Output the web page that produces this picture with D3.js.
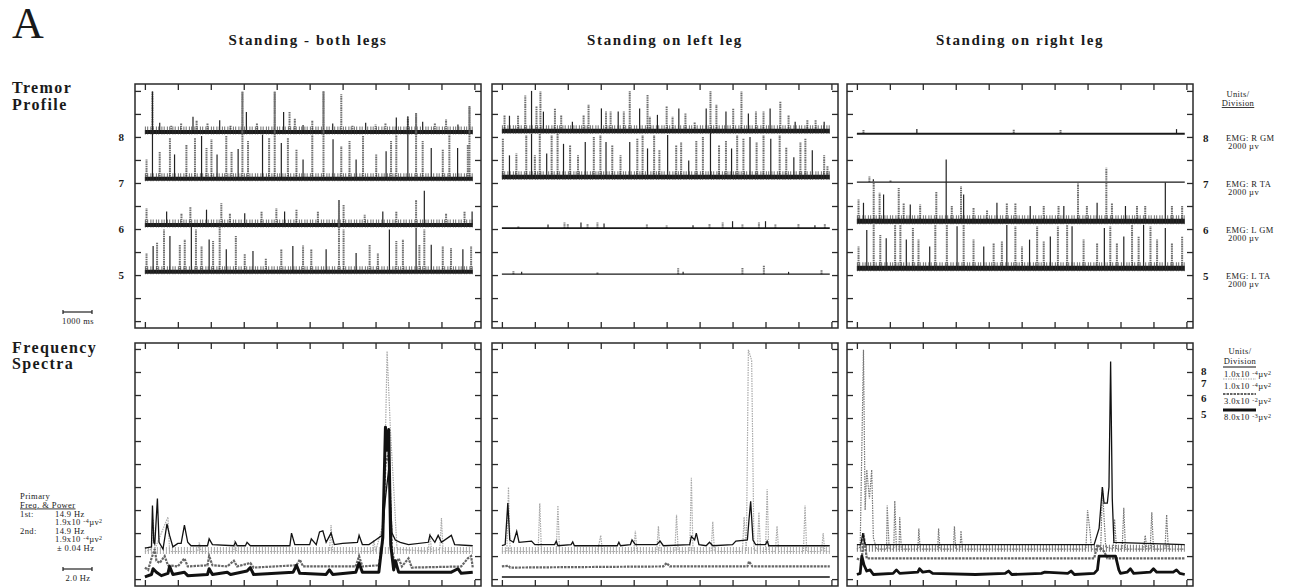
<!DOCTYPE html>
<html lang="en">
  <head>
    <meta charset="UTF-8" />
    <title>Tremor Profile and Frequency Spectra</title>
    <script src="https://d3js.org/d3.v7.min.js"></script>
    <style>
      body {
        margin: 0;
        background-color: white;
        font-family: "Liberation Serif", "DejaVu Serif", serif;
      }
      svg text {
        fill: #1a1a1a;
      }
      .title {
        font-size: 15px;
        font-weight: bold;
        letter-spacing: 1.6px;
      }
      .row-label {
        font-size: 16px;
        font-weight: bold;
        letter-spacing: 1.4px;
      }
      .lvl {
        font-size: 11px;
        font-weight: bold;
      }
      .small {
        font-size: 8.5px;
        letter-spacing: 0.4px;
      }
    </style>
  </head>

  <body>
    <div id="chart"></div>

    <script>
      // ---- data ----
      const conditions = [
        "Standing - both legs",
        "Standing on left leg",
        "Standing on right leg",
      ];
      const levels = [8, 7, 6, 5];
      const emgLabels = ["EMG: R GM", "EMG: R TA", "EMG: L GM", "EMG: L TA"];
      const emgUnits = ["2000 µv", "2000 µv", "2000 µv", "2000 µv"];
      const specMantissa = ["1.0x10", "1.0x10", "3.0x10", "8.0x10"];
      const specExponent = ["-4", "-4", "-2", "-3"];
      const xTicks = [0, 1, 2, 3, 4, 5, 6, 7, 8, 9, 10];
      const emgTicks = [4, 4.5, 5, 5.5, 6, 6.5, 7, 7.5, 8, 8.5, 9];
      const specTicks = [0, 1, 2, 3, 4, 5, 6, 7, 8, 9, 10];
      const traceEnd = 9.95;

      // baseline of each EMG trace (traces 8,7,6,5)
      const baseBoth = [8.11, 7.09, 6.09, 5.07];
      const baseLeft = [8.13, 7.13, 6.02, 5.02];
      const baseRight = [8.07, 7.02, 6.17, 5.15];

      // EMG bursts: [time in divisions, height above baseline]
      const spikesBoth8 = [[0.23,0.87],[0.45,0.2],[0.8,0.15],[1.1,0.18],[1.46,0.33],[1.57,0.25],[1.9,0.18],[2.27,0.25],[2.6,0.15],[2.96,0.87],[3.08,0.43],[3.4,0.18],[3.94,0.87],[4.21,0.43],[4.39,0.43],[4.55,0.3],[4.8,0.15],[5.08,0.25],[5.42,0.89],[5.7,0.18],[5.96,0.82],[6.3,0.15],[6.7,0.2],[7.0,0.16],[7.3,0.2],[7.63,0.31],[7.98,0.31],[8.23,0.4],[8.43,0.22],[8.8,0.18],[9.14,0.27],[9.5,0.16],[9.85,0.54]];
      const spikesBoth7 = [[0.05,0.42],[0.23,1.9],[0.45,0.6],[0.76,0.9],[0.9,0.53],[1.26,0.75],[1.52,0.9],[1.72,0.93],[1.87,0.67],[2.02,0.86],[2.19,0.53],[2.47,0.93],[2.63,0.6],[2.83,0.65],[2.96,1.9],[3.13,0.82],[3.57,0.96],[3.77,0.89],[3.94,1.9],[4.14,0.78],[4.34,0.89],[4.6,0.64],[4.8,0.42],[5.08,0.96],[5.42,1.9],[5.71,0.86],[5.96,0.71],[6.21,0.82],[6.41,0.42],[6.62,0.93],[7.02,0.53],[7.32,0.6],[7.47,0.82],[7.63,0.96],[7.98,1.36],[8.23,1.43],[8.43,0.82],[8.69,0.67],[9.04,0.64],[9.24,0.96],[9.49,0.67],[9.8,0.75],[9.85,1.58]];
      const spikesBoth6 = [[0.05,0.36],[0.66,0.29],[1.11,0.25],[1.38,0.4],[1.87,0.33],[2.32,0.47],[2.58,0.25],[3.03,0.25],[3.54,0.29],[3.99,0.36],[4.24,0.29],[4.6,0.33],[5.25,0.29],[5.89,0.54],[6.03,0.43],[6.67,0.22],[7.22,0.29],[7.63,0.29],[8.23,0.54],[8.48,0.74],[9.14,0.25],[9.7,0.29],[9.93,0.29]];
      const spikesBoth5 = [[0.05,0.41],[0.25,0.56],[0.37,0.63],[0.58,0.92],[0.76,0.78],[1.06,0.59],[1.21,0.7],[1.41,0.99],[1.55,0.92],[1.72,0.56],[1.95,0.7],[2.07,0.67],[2.27,0.99],[2.47,0.49],[2.76,0.78],[3.03,0.38],[3.28,0.45],[3.67,0.3],[4.14,0.49],[4.49,0.56],[4.8,0.57],[5.05,0.49],[5.5,0.49],[5.89,1.56],[6.03,0.92],[6.41,0.41],[6.82,0.59],[7.07,0.41],[7.42,0.92],[7.63,0.67],[7.83,0.7],[8.23,0.96],[8.33,0.59],[8.48,0.92],[8.69,0.59],[9.04,0.56],[9.29,0.52],[9.65,0.49],[9.9,0.56]];

      const spikesLeft8 = [[0.08,0.35],[0.23,0.33],[0.49,0.33],[0.71,0.77],[0.9,0.87],[1.05,0.53],[1.17,0.86],[1.26,0.42],[1.61,0.49],[1.8,0.35],[2.14,0.2],[2.48,0.35],[2.63,0.57],[3.02,0.49],[3.16,0.42],[3.3,0.42],[3.53,0.42],[3.7,0.42],[3.88,0.87],[4.18,0.49],[4.42,0.78],[4.49,0.31],[4.72,0.35],[5.0,0.53],[5.18,0.31],[5.37,0.49],[5.57,0.38],[5.85,0.2],[6.2,0.49],[6.33,0.87],[6.51,0.57],[6.8,0.42],[7.02,0.49],[7.27,0.86],[7.48,0.38],[7.71,0.42],[7.94,0.42],[8.14,0.49],[8.45,0.65],[8.7,0.35],[8.9,0.2],[9.27,0.24],[9.52,0.24],[9.78,0.2]];
      const spikesLeft7 = [[0.03,0.83],[0.23,0.47],[0.44,0.51],[0.74,0.91],[0.9,0.94],[1.0,0.47],[1.15,0.94],[1.36,0.51],[1.51,0.91],[1.69,0.94],[1.87,0.72],[2.07,0.69],[2.31,0.47],[2.53,0.76],[2.79,0.87],[2.99,0.91],[3.16,0.76],[3.35,0.69],[3.6,0.47],[3.88,0.76],[4.11,0.83],[4.27,0.91],[4.42,0.62],[4.62,0.91],[4.78,0.58],[5.03,0.91],[5.29,0.69],[5.44,0.76],[5.67,0.36],[5.9,0.8],[6.1,0.87],[6.33,0.98],[6.59,0.69],[6.8,0.8],[6.97,0.62],[7.14,0.91],[7.33,0.83],[7.53,0.87],[7.73,0.76],[7.94,0.91],[8.16,0.83],[8.43,0.91],[8.63,0.65],[8.86,0.43],[9.06,0.76],[9.21,0.83],[9.42,0.58],[9.78,0.47],[9.88,0.25]];
      const spikesLeft6 = [[0.5,0.05],[1.4,0.08],[1.9,0.12],[2.0,0.1],[2.4,0.12],[2.6,0.1],[2.9,0.12],[3.1,0.1],[4.4,0.08],[5.0,0.06],[5.8,0.06],[6.3,0.1],[6.7,0.12],[7.0,0.15],[7.3,0.08],[7.8,0.12],[8.0,0.15],[8.3,0.08],[9.0,0.1],[9.5,0.06],[9.8,0.1]];
      const spikesLeft5 = [[0.35,0.07],[0.6,0.05],[2.9,0.05],[5.35,0.13],[5.5,0.05],[7.3,0.14],[7.95,0.2],[8.7,0.05],[9.7,0.09]];

      const spikesRight8 = [[0.2,0.08],[1.82,0.1],[4.76,0.1],[6.18,0.08],[9.7,0.1]];
      const spikesRight7 = [[0.38,0.12],[0.5,0.06],[1.02,0.05]];
      const spikesRight6 = [[0.05,0.47],[0.2,0.4],[0.51,0.87],[0.69,0.62],[0.81,0.58],[1.27,0.72],[1.42,0.4],[1.62,0.36],[1.92,0.36],[2.41,0.65],[2.71,1.34],[2.88,0.33],[3.16,0.76],[3.24,0.58],[3.54,0.29],[3.95,0.25],[4.25,0.4],[4.55,0.4],[4.81,0.4],[5.26,0.33],[5.67,0.33],[6.12,0.33],[6.28,0.33],[6.71,0.82],[6.98,0.33],[7.29,0.4],[7.57,1.16],[7.74,0.4],[8.15,0.33],[8.5,0.33],[8.75,0.33],[9.36,0.84],[9.56,0.33],[9.87,0.33]];
      const spikesRight5 = [[0.05,0.47],[0.3,0.83],[0.51,0.98],[0.71,0.72],[0.89,0.65],[1.16,0.94],[1.32,0.94],[1.5,0.62],[1.7,0.87],[1.87,0.62],[2.21,0.47],[2.38,0.94],[2.73,0.94],[3.04,0.91],[3.24,0.94],[3.54,0.62],[3.85,0.47],[4.15,0.54],[4.4,0.58],[4.55,0.94],[4.81,0.91],[5.01,0.47],[5.24,0.62],[5.47,0.91],[5.67,0.58],[5.87,0.69],[6.1,0.91],[6.38,0.94],[6.53,0.91],[6.88,0.62],[7.29,0.54],[7.51,0.87],[7.69,0.91],[7.89,0.54],[8.1,0.69],[8.35,0.94],[8.55,0.69],[8.7,0.94],[8.91,0.91],[9.11,0.62],[9.36,0.87],[9.56,0.54],[9.87,0.69]];

      // frequency spectra: [frequency in divisions, power in divisions]
      const specBoth8 = [[0,1.35],[0.2,1.4],[0.23,3.2],[0.27,1.6],[0.3,1.5],[0.38,3.5],[0.43,1.6],[0.55,1.3],[0.67,2.4],[0.75,1.9],[0.85,1.4],[1.0,1.55],[1.1,1.55],[1.2,2.35],[1.3,1.6],[1.4,1.45],[1.9,1.45],[1.95,1.75],[2.05,1.5],[2.7,1.45],[2.75,1.6],[2.8,1.45],[3.05,1.45],[3.1,1.6],[3.2,1.45],[4.4,1.45],[4.45,2.0],[4.55,1.5],[5.0,1.5],[5.05,1.75],[5.2,1.5],[5.3,2.05],[5.4,2.1],[5.5,1.6],[5.65,2.0],[5.75,1.5],[6.0,1.55],[6.45,1.6],[6.5,1.9],[6.6,1.5],[6.8,1.5],[7.0,1.7],[7.2,1.9],[7.3,3.5],[7.4,4.8],[7.5,2.0],[7.6,1.7],[7.75,1.6],[8.0,1.5],[8.6,1.6],[8.65,1.9],[8.8,1.6],[8.9,1.9],[9.0,1.6],[9.3,1.9],[9.4,1.5],[9.95,1.45]];
      const specBoth7 = [[0,1.2],[0.2,1.3],[0.25,2.6],[0.3,1.3],[0.7,2.7],[0.75,1.2],[1.6,1.2],[1.65,1.6],[1.7,1.2],[2.7,1.2],[2.72,1.7],[2.78,1.2],[5.6,1.2],[5.65,2.35],[5.7,1.2],[6.9,1.2],[6.95,1.7],[7.0,1.2],[7.25,2.5],[7.35,9.9],[7.45,6.5],[7.55,4.0],[7.65,1.3],[8.6,1.2],[8.65,2.0],[8.7,1.2],[8.95,1.3],[9.0,2.65],[9.05,1.2],[9.95,1.2]];
      const specBoth6 = [[0,0.5],[0.1,0.4],[0.2,0.9],[0.3,1.3],[0.35,0.8],[0.45,0.7],[0.6,1.0],[0.7,0.6],[1.0,0.55],[1.2,0.9],[1.3,0.55],[1.9,0.6],[1.95,1.0],[2.05,0.6],[2.5,0.55],[2.7,0.8],[2.8,0.55],[3.2,0.7],[3.3,0.5],[4.6,0.6],[4.7,0.85],[4.8,0.55],[6.4,0.55],[6.5,1.0],[6.6,0.55],[7.1,0.6],[7.2,1.5],[7.3,5.0],[7.4,5.5],[7.5,1.2],[7.6,0.6],[7.7,0.9],[7.8,0.55],[8.0,0.9],[8.1,0.5],[9.6,0.55],[9.8,0.9],[9.9,1.0],[9.95,0.5]];
      const specBoth5 = [[0,0.1],[0.2,0.2],[0.25,0.45],[0.35,0.3],[0.5,0.15],[0.7,0.25],[0.75,0.55],[0.85,0.2],[1.2,0.3],[1.3,0.15],[1.9,0.2],[1.95,0.45],[2.05,0.2],[2.5,0.3],[2.6,0.2],[3.1,0.35],[3.2,0.5],[3.3,0.2],[4.5,0.3],[4.6,0.6],[4.7,0.25],[5.5,0.2],[5.6,0.4],[5.7,0.2],[6.4,0.3],[6.5,0.7],[6.6,0.3],[7.1,0.3],[7.22,1.8],[7.3,6.6],[7.35,5.6],[7.4,6.5],[7.46,1.5],[7.55,0.4],[7.6,0.8],[7.7,0.3],[8.4,0.3],[9.3,0.3],[9.5,0.45],[9.6,0.25],[9.95,0.3]];

      const specLeft8 = [[0,1.45],[0.1,1.5],[0.18,3.3],[0.24,1.7],[0.35,1.6],[0.45,2.07],[0.52,1.6],[0.9,1.65],[1.0,1.5],[1.6,1.5],[1.65,1.65],[1.7,1.45],[2.1,1.5],[2.15,1.62],[2.2,1.45],[3.5,1.45],[3.55,1.6],[3.6,1.45],[3.9,1.5],[3.95,1.7],[4.05,1.5],[4.7,1.5],[4.8,1.65],[4.9,1.45],[5.7,1.5],[5.75,1.86],[5.85,1.7],[5.9,2.0],[5.98,1.5],[6.2,1.45],[6.3,1.6],[6.4,1.45],[7.0,1.5],[7.1,1.65],[7.45,1.7],[7.5,2.6],[7.55,3.38],[7.62,1.7],[7.7,1.5],[8.0,1.5],[8.05,1.65],[8.1,1.45],[9.95,1.45]];
      const specLeft7 = [[0,1.2],[0.15,1.2],[0.2,4.0],[0.25,1.2],[1.1,1.2],[1.15,3.3],[1.2,1.2],[1.65,1.2],[1.7,3.2],[1.75,1.2],[2.9,1.2],[3.0,1.9],[3.05,1.2],[4.0,1.2],[4.05,2.1],[4.1,1.2],[4.7,1.2],[4.75,2.3],[4.8,1.2],[5.25,1.2],[5.3,2.8],[5.35,1.2],[5.7,1.2],[5.75,4.4],[5.8,1.2],[6.35,1.2],[6.4,2.5],[6.45,1.2],[7.3,1.2],[7.35,2.7],[7.42,1.2],[7.48,9.97],[7.58,9.5],[7.65,1.3],[7.75,1.2],[7.8,2.9],[7.85,1.2],[8.0,1.2],[8.05,3.9],[8.1,1.2],[8.3,1.2],[8.35,2.3],[8.4,1.2],[9.15,1.2],[9.2,3.2],[9.25,1.2],[9.7,1.2],[9.75,2.0],[9.8,1.2],[9.95,1.2]];
      const specLeft6 = [[0,0.55],[0.2,0.58],[0.25,0.5],[4.9,0.55],[5.0,0.7],[5.1,0.55],[7.45,0.55],[7.5,0.77],[7.6,0.55],[9.95,0.55]];
      const specLeft5 = [[0,0.09],[9.95,0.09]];

      const specRight8 = [[0,1.5],[0.12,1.5],[0.18,2.0],[0.25,1.5],[7.2,1.5],[7.35,2.2],[7.45,4.0],[7.5,3.3],[7.6,3.3],[7.65,4.0],[7.7,9.46],[7.75,3.5],[7.8,1.6],[9.95,1.5]];
      const specRight7 = [[0,1.3],[0.1,1.4],[0.2,9.97],[0.25,3.0],[0.3,4.75],[0.38,3.5],[0.45,4.75],[0.5,1.8],[0.6,1.3],[0.9,1.3],[0.92,3.2],[0.98,1.3],[1.12,1.3],[1.15,3.4],[1.2,1.3],[1.28,1.3],[1.3,2.7],[1.35,1.3],[1.85,1.3],[1.88,2.2],[1.92,1.3],[2.45,1.3],[2.48,2.2],[2.52,1.3],[2.93,1.3],[2.96,2.3],[3.0,1.3],[3.13,1.3],[3.16,2.1],[3.2,1.3],[6.95,1.3],[7.0,3.0],[7.08,2.0],[7.12,1.3],[7.4,1.3],[7.45,4.0],[7.55,1.4],[7.78,1.3],[7.82,2.6],[7.88,1.3],[8.05,1.3],[8.1,3.1],[8.15,1.3],[8.7,1.3],[8.75,1.9],[8.8,1.3],[8.9,1.3],[8.95,2.9],[9.0,1.3],[9.35,1.3],[9.4,2.8],[9.45,1.3],[9.95,1.3]];
      const specRight6 = [[0,0.9],[0.15,0.8],[0.2,2.0],[0.3,0.9],[7.2,0.9],[7.3,1.5],[7.5,1.2],[7.6,0.9],[9.95,0.9]];
      const specRight5 = [[0,0.2],[0.1,0.25],[0.15,1.0],[0.22,0.6],[0.3,0.35],[0.4,0.4],[0.5,0.2],[1.1,0.25],[1.2,0.4],[1.3,0.25],[1.85,0.3],[1.9,0.45],[2.0,0.3],[2.2,0.35],[2.3,0.25],[3.6,0.2],[4.5,0.25],[4.6,0.35],[4.7,0.2],[5.6,0.25],[5.7,0.3],[6.4,0.25],[6.5,0.35],[6.6,0.2],[7.2,0.25],[7.3,0.4],[7.35,1.0],[7.85,1.0],[7.95,0.4],[8.0,0.25],[8.2,0.3],[8.3,0.45],[8.4,0.25],[8.9,0.3],[9.0,0.45],[9.1,0.3],[9.6,0.3],[9.7,0.4],[9.8,0.25],[9.95,0.2]];

      // ---- layout ----
      const W = 1296, H = 588;
      const panelW = 346;
      const panelLeft = [135, 492, 847];
      const topY0 = 84, topY1 = 328;
      const botY0 = 343, botY1 = 586;

      const panels = [
        { base: baseBoth, spikes: [spikesBoth8, spikesBoth7, spikesBoth6, spikesBoth5],
          spec: [specBoth8, specBoth7, specBoth6, specBoth5],
          band: [4, 4, 4, 4], s5: 3, hatch7: "#aaa" },
        { base: baseLeft, spikes: [spikesLeft8, spikesLeft7, spikesLeft6, spikesLeft5],
          spec: [specLeft8, specLeft7, specLeft6, specLeft5],
          band: [4.5, 4.5, 1.6, 1.4], s5: 1.6, hatch7: "#aaa" },
        { base: baseRight, spikes: [spikesRight8, spikesRight7, spikesRight6, spikesRight5],
          spec: [specRight8, specRight7, specRight6, specRight5],
          band: [2, 1.2, 5, 5], s5: 2.8, hatch7: "#777" },
      ];

      const svg = d3
        .select("#chart")
        .append("svg")
        .attr("width", W)
        .attr("height", H);

      const yTop = d3.scaleLinear().domain([3.85, 9.15]).range([topY1, topY0]);
      const yBot = d3.scaleLinear().domain([-0.3, 10.26]).range([botY1, botY0]);

      // frame with inward ticks on all four sides
      function drawFrame(g, x, y, yTicks) {
        const [xa, xb] = x.range();
        const [ya, yb] = y.range();
        const ticks = g.append("g").attr("class", "ticks");
        ticks.append("g").attr("transform", `translate(0,${yb})`)
          .call(d3.axisTop(x).tickValues(xTicks).tickSize(-6).tickSizeOuter(0).tickFormat(""));
        ticks.append("g").attr("transform", `translate(0,${ya})`)
          .call(d3.axisBottom(x).tickValues(xTicks).tickSize(-6).tickSizeOuter(0).tickFormat(""));
        ticks.append("g").attr("transform", `translate(${xa},0)`)
          .call(d3.axisLeft(y).tickValues(yTicks).tickSize(-6).tickSizeOuter(0).tickFormat(""));
        ticks.append("g").attr("transform", `translate(${xb},0)`)
          .call(d3.axisRight(y).tickValues(yTicks).tickSize(-6).tickSizeOuter(0).tickFormat(""));
        ticks.selectAll(".domain").remove();
        ticks.selectAll("line").attr("stroke", "#2a2a2a").attr("stroke-width", 1.3);

        g.append("rect")
          .attr("x", xa).attr("y", yb)
          .attr("width", xb - xa).attr("height", ya - yb)
          .attr("fill", "none")
          .attr("stroke", "#2a2a2a")
          .attr("stroke-width", 1.5);
      }

      panels.forEach((p, pi) => {
        const x = d3.scaleLinear().domain([-0.3, 10.2]).range([panelLeft[pi], panelLeft[pi] + panelW]);
        const g = svg.append("g");

        // column title
        svg.append("text")
          .attr("class", "title")
          .attr("x", panelLeft[pi] + panelW / 2)
          .attr("y", 45)
          .attr("text-anchor", "middle")
          .text(conditions[pi]);

        // ---- tremor profile (EMG) ----
        const gt = g.append("g");
        p.base.forEach((b, ti) => {
          const bw = p.band[ti];
          // bursts
          gt.selectAll(null)
            .data(p.spikes[ti])
            .enter()
            .append("line")
            .attr("x1", (d) => x(d[0]))
            .attr("x2", (d) => x(d[0]))
            .attr("y1", yTop(b))
            .attr("y2", (d) => yTop(b + d[1]))
            .attr("stroke", (d, i) => (i % 3 === 1 ? "#222" : "#707070"))
            .attr("stroke-width", (d, i) => (i % 3 === 1 ? 1.2 : 2))
            .attr("stroke-dasharray", (d, i) => (i % 3 === 1 ? null : "1.6 0.7"));
          // noise band along the baseline
          gt.append("line")
            .attr("x1", x(0)).attr("x2", x(traceEnd))
            .attr("y1", yTop(b)).attr("y2", yTop(b))
            .attr("stroke", "#1a1a1a")
            .attr("stroke-width", bw);
          if (bw > 2) {
            gt.append("line")
              .attr("x1", x(0)).attr("x2", x(traceEnd))
              .attr("y1", yTop(b) - 1.5).attr("y2", yTop(b) - 1.5)
              .attr("stroke", "#333")
              .attr("stroke-width", bw + 4)
              .attr("stroke-dasharray", "1 1.3 1 2.2")
              .attr("opacity", 0.7);
          }
        });
        drawFrame(g.append("g"), x, yTop, emgTicks);

        // ---- frequency spectra ----
        const gs = g.append("g");
        const line = d3.line().x((d) => x(d[0])).y((d) => yBot(d[1]));
        const s7base = p.spec[1][0][1];
        // hatched band of spectrum 7
        gs.append("line")
          .attr("x1", x(0)).attr("x2", x(traceEnd))
          .attr("y1", yBot(s7base) - 1).attr("y2", yBot(s7base) - 1)
          .attr("stroke", p.hatch7)
          .attr("stroke-width", 7)
          .attr("stroke-dasharray", "1 2");
        gs.append("path")
          .attr("d", line(p.spec[1]))
          .attr("fill", "none")
          .attr("stroke", p.hatch7)
          .attr("stroke-width", 1.2)
          .attr("stroke-dasharray", "1.5 1");
        gs.append("path")
          .attr("d", line(p.spec[2]))
          .attr("fill", "none")
          .attr("stroke", "#666")
          .attr("stroke-width", 2.2)
          .attr("stroke-dasharray", "2.5 1");
        gs.append("path")
          .attr("d", line(p.spec[3]))
          .attr("fill", "none")
          .attr("stroke", "#111")
          .attr("stroke-width", p.s5)
          .attr("stroke-linejoin", "round");
        gs.append("path")
          .attr("d", line(p.spec[0]))
          .attr("fill", "none")
          .attr("stroke", "#111")
          .attr("stroke-width", 1.3);
        drawFrame(g.append("g"), x, yBot, specTicks);
      });

      // ---- left labels ----
      svg.append("text").attr("x", 12).attr("y", 38)
        .style("font-size", "44px").text("A");

      const rowLbl = svg.append("g");
      rowLbl.append("text").attr("x", 12).attr("y", 93).attr("class", "row-label").text("Tremor");
      rowLbl.append("text").attr("x", 12).attr("y", 110).attr("class", "row-label").text("Profile");
      rowLbl.append("text").attr("x", 12).attr("y", 353).attr("class", "row-label").text("Frequency");
      rowLbl.append("text").attr("x", 12).attr("y", 369).attr("class", "row-label").text("Spectra");

      svg.selectAll(".lvl-left")
        .data(levels)
        .enter()
        .append("text")
        .attr("class", "lvl")
        .attr("x", 124)
        .attr("y", (d) => yTop(d) + 4)
        .attr("text-anchor", "end")
        .text((d) => d);

      // scale bars
      function scaleBar(yb, label) {
        const s = svg.append("g").attr("stroke", "#222").attr("stroke-width", 1.2);
        s.append("line").attr("x1", 63).attr("x2", 92).attr("y1", yb).attr("y2", yb);
        s.append("line").attr("x1", 63).attr("x2", 63).attr("y1", yb - 2).attr("y2", yb + 2);
        s.append("line").attr("x1", 92).attr("x2", 92).attr("y1", yb - 2).attr("y2", yb + 2);
        svg.append("text").attr("class", "small").attr("x", 78).attr("y", yb + 12)
          .attr("text-anchor", "middle").text(label);
      }
      scaleBar(312, "1000 ms");
      scaleBar(569, "2.0 Hz");

      // power with superscript exponent and µv²
      function powerText(sel, mantissa, exp) {
        sel.append("tspan").text(mantissa + " ");
        sel.append("tspan").attr("dy", -2.5).style("font-size", "6px").text(exp);
        sel.append("tspan").attr("dy", 2.5).text("µv");
        sel.append("tspan").attr("dy", -2.5).style("font-size", "6px").text("2");
      }

      const primary = [
        { x: 20, y: 499, t: "Primary" },
        { x: 20, y: 507.5, t: "Freq. & Power", u: true },
        { x: 20, y: 516.5, t: "1st:" },
        { x: 55, y: 516.5, t: "14.9  Hz" },
        { x: 20, y: 533.5, t: "2nd:" },
        { x: 55, y: 533.5, t: "14.9  Hz" },
        { x: 57, y: 551, t: "± 0.04  Hz" },
      ];
      primary.forEach((d) => {
        svg.append("text").attr("class", "small").attr("x", d.x).attr("y", d.y)
          .attr("text-decoration", d.u ? "underline" : null).text(d.t);
      });
      powerText(svg.append("text").attr("class", "small").attr("x", 55).attr("y", 525), "1.9x10", "-4");
      powerText(svg.append("text").attr("class", "small").attr("x", 55).attr("y", 542), "1.9x10", "-4");

      // ---- right side: EMG units ----
      svg.append("text").attr("class", "small").attr("x", 1238).attr("y", 97)
        .attr("text-anchor", "middle").text("Units/");
      svg.append("text").attr("class", "small").attr("x", 1238).attr("y", 106)
        .attr("text-anchor", "middle").attr("text-decoration", "underline").text("Division");

      levels.forEach((lv, i) => {
        svg.append("text").attr("class", "lvl").attr("x", 1203).attr("y", yTop(lv) + 5).text(lv);
        svg.append("text").attr("class", "small").attr("x", 1226).attr("y", yTop(lv) + 4).text(emgLabels[i]);
        svg.append("text").attr("class", "small").attr("x", 1228).attr("y", yTop(lv) + 12).text(emgUnits[i]);
      });

      // ---- right side: spectra units legend ----
      svg.append("text").attr("class", "small").attr("x", 1240).attr("y", 354)
        .attr("text-anchor", "middle").text("Units/");
      svg.append("text").attr("class", "small").attr("x", 1240).attr("y", 364)
        .attr("text-anchor", "middle").text("Division");

      const legY = [367, 379, 394, 410];
      const legStyle = [
        { stroke: "#111", width: 1, dash: null },
        { stroke: "#aaa", width: 1, dash: "1.5 1" },
        { stroke: "#666", width: 2.2, dash: "2.5 1" },
        { stroke: "#111", width: 3, dash: null },
      ];
      levels.forEach((lv, i) => {
        svg.append("line")
          .attr("x1", 1223).attr("x2", 1256)
          .attr("y1", legY[i]).attr("y2", legY[i])
          .attr("stroke", legStyle[i].stroke)
          .attr("stroke-width", legStyle[i].width)
          .attr("stroke-dasharray", legStyle[i].dash);
        svg.append("text").attr("class", "lvl").attr("x", 1201).attr("y", legY[i] + 8).text(lv);
        powerText(
          svg.append("text").attr("class", "small").attr("x", 1224).attr("y", legY[i] + 10),
          specMantissa[i],
          specExponent[i]
        );
      });
    </script>
  </body>
</html>
